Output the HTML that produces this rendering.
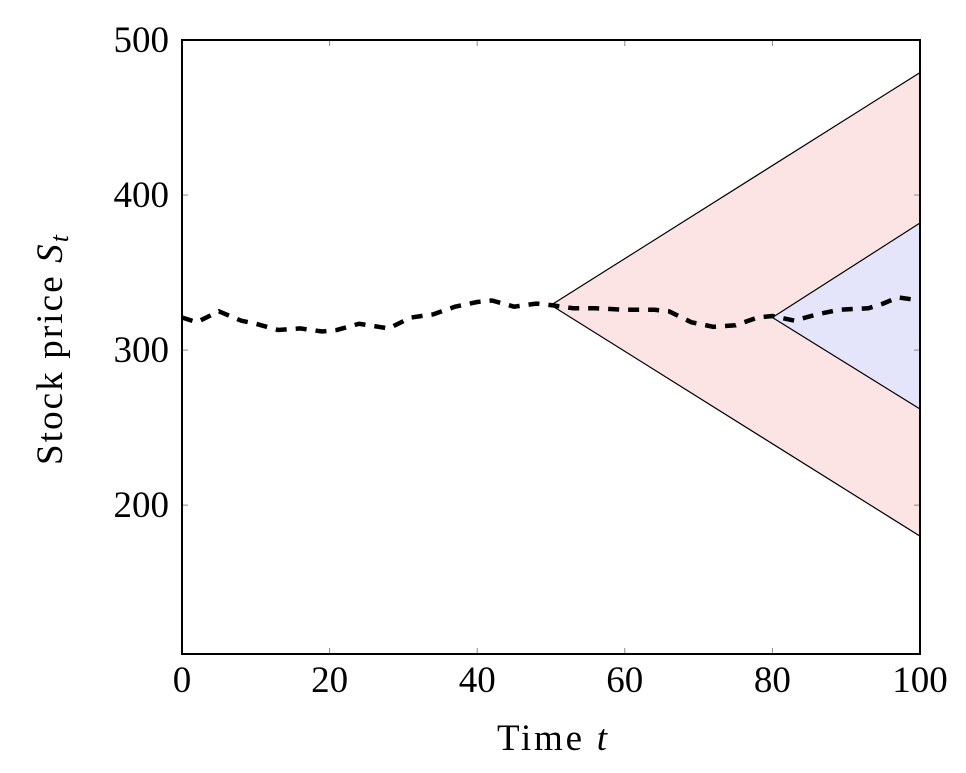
<!DOCTYPE html>
<html><head><meta charset="utf-8"><style>
body{margin:0;background:#fff}
svg text{font-family:"Liberation Serif",serif;fill:#000}
</style></head><body>
<svg width="966" height="768" xmlns="http://www.w3.org/2000/svg">
<g id="g"></g>
</svg>
<script>
const times=[0,2,5,8,10,13,16,19,21,24,28,31,34,37,40,42,45,48,50,53,56,60,64,66,69,72,75,78,80,83,86,89,93,95,97,100];
const prices=[321,318,325,319,317,313,314,312,313,317,314,321,323,328,331,332,328,330,329,327,327,326,326,325,318,315,316,321,322,319,323,326,327,330,334,332];
const cone1=[[50,329],[100,479],[100,180]];
const cone2=[[80,321],[100,382],[100,262]];
const xTicks=[0,20,40,60,80,100];
const yTicks=[200,300,400,500];
const X0=182,X1=920,Y0=40,Y1=654,xmin=0,xmax=100,ymin=104,ymax=500;
const sx=v=>X0+(v-xmin)/(xmax-xmin)*(X1-X0);
const sy=v=>Y1-(v-ymin)/(ymax-ymin)*(Y1-Y0);
const NS="http://www.w3.org/2000/svg",g=document.getElementById('g');
function mk(t,a){const e=document.createElementNS(NS,t);for(const k in a)e.setAttribute(k,a[k]);g.appendChild(e);return e;}
const pts=c=>c.map(p=>sx(p[0])+','+sy(p[1])).join(' ');
let e=mk('polygon',{points:pts(cone1),fill:'#fde4e4',stroke:'#000','stroke-width':1.2});


e=mk('polygon',{points:pts(cone2),fill:'#e4e4fb',stroke:'#000','stroke-width':1.2});


e=mk('polyline',{points:pts(times.map((t,i)=>[t,prices[i]])),fill:'none',stroke:'#000','stroke-width':4.5,'stroke-dasharray':'11,9'});


xTicks.forEach(v=>{
 mk('line',{x1:sx(v),x2:sx(v),y1:Y1,y2:Y1-6,stroke:'#888'});
 mk('line',{x1:sx(v),x2:sx(v),y1:Y0,y2:Y0+6,stroke:'#888'});
 const l=mk('text',{x:sx(v),y:Y1+38,'font-size':37,'text-anchor':'middle'});l.textContent=v;
 
 
});
yTicks.forEach(v=>{
 mk('line',{x1:X0,x2:X0+6,y1:sy(v),y2:sy(v),stroke:'#888'});
 mk('line',{x1:X1,x2:X1-6,y1:sy(v),y2:sy(v),stroke:'#888'});
 const l=mk('text',{x:X0-13,y:sy(v)+12,'font-size':37,'text-anchor':'end'});l.textContent=v;
 
 
});
e=mk('rect',{x:X0,y:Y0,width:X1-X0,height:Y1-Y0,fill:'none',stroke:'#000','stroke-width':2});


e=mk('text',{x:497,y:750,'font-size':37,textLength:110,lengthAdjust:'spacing'});
e.innerHTML='Time <tspan font-style="italic">t</tspan>';


e=mk('text',{x:0,y:0,'font-size':37,textLength:230,lengthAdjust:'spacing',transform:'translate(62,465) rotate(-90)'});
e.innerHTML='Stock price <tspan font-style="italic">S</tspan><tspan font-style="italic" font-size="26" dy="6">t</tspan>';


</script>
</body></html>
